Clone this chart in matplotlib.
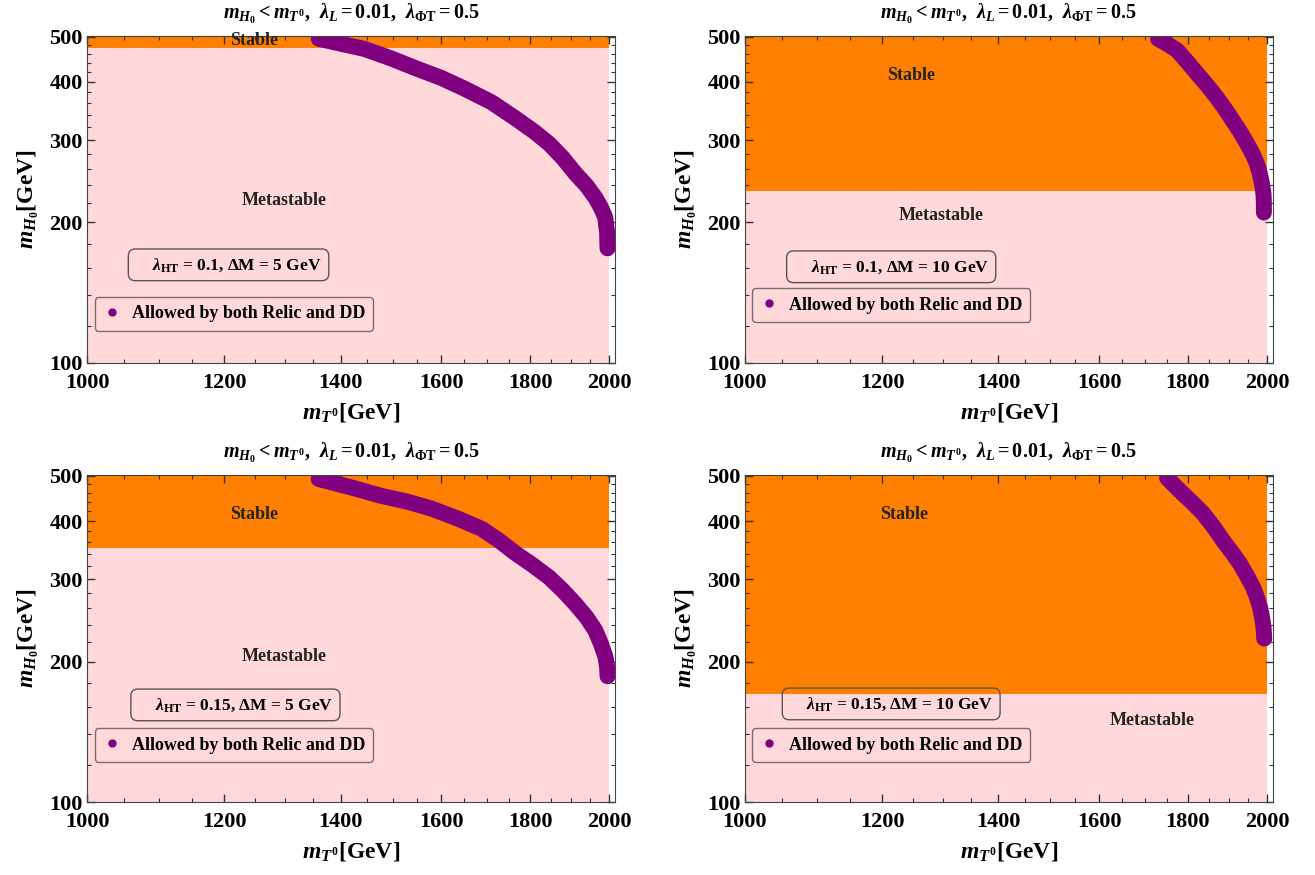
import matplotlib
matplotlib.use('Agg')
import matplotlib.pyplot as plt
from matplotlib.lines import Line2D
from matplotlib.ticker import FixedLocator, NullFormatter

plt.rcParams['font.family'] = ['Liberation Serif', 'DejaVu Serif']
plt.rcParams['font.weight'] = 'bold'
plt.rcParams['axes.labelweight'] = 'bold'
plt.rcParams['axes.titleweight'] = 'bold'
plt.rcParams['mathtext.fontset'] = 'custom'
plt.rcParams['mathtext.rm'] = 'Liberation Serif:bold'
plt.rcParams['mathtext.it'] = 'Liberation Serif:bold:italic'
plt.rcParams['mathtext.bf'] = 'Liberation Serif:bold'

# purple band (allowed by relic + DD)
tl_x = [1360, 1400, 1444, 1495, 1544, 1600, 1650, 1710, 1764, 1810, 1846, 1880, 1911, 1940, 1963, 1978, 1989, 1994, 1995]
tl_y = [495, 483, 471, 450, 429, 408, 387, 362, 335, 313, 295, 275, 255, 240, 226, 215, 205, 190, 176]
tr_x = [1730, 1752, 1775, 1800, 1822, 1848, 1871, 1892, 1911, 1930, 1947, 1961, 1972, 1980, 1986, 1990, 1991, 1991]
tr_y = [495, 482, 467, 440, 417, 392, 370, 349, 330, 312, 295, 281, 268, 255, 242, 230, 220, 210]
bl_x = [1360, 1420, 1477, 1530, 1580, 1635, 1688, 1728, 1764, 1806, 1846, 1880, 1911, 1940, 1963, 1978, 1990, 1994, 1995]
bl_y = [492, 472, 453, 440, 425, 405, 385, 363, 342, 322, 303, 284, 266, 249, 233, 218, 204, 194, 186]
br_x = [1751, 1770, 1789, 1813, 1837, 1862, 1886, 1908, 1929, 1947, 1963, 1973, 1981, 1986, 1990, 1992]
br_y = [495, 475, 457, 436, 415, 389, 363, 343, 324, 305, 288, 274, 261, 249, 237, 224]

# lower edge of the stable (orange) region
stable_min = [472, 234, 350, 170]
lam_ht = ['0.1', '0.1', '0.15', '0.15']
delta_m = ['5', '10', '5', '10']

curves_x = [tl_x, tr_x, bl_x, br_x]
curves_y = [tl_y, tr_y, bl_y, br_y]

# text positions (axes fraction)
stable_pos = [(0.316, 0.985), (0.315, 0.88), (0.316, 0.878), (0.302, 0.878)]
meta_pos = [(0.373, 0.498), (0.372, 0.45), (0.373, 0.446), (0.772, 0.25)]
box_pos = [(0.268, 0.30), (0.277, 0.294), (0.281, 0.297), (0.277, 0.30)]
leg_pos = [(0.278, 0.15), (0.277, 0.177), (0.278, 0.174), (0.277, 0.174)]

orange = '#FF8000'
pink = '#FFD8DA'
purple = '#800080'

fig, axes = plt.subplots(2, 2, figsize=(13.15, 8.75), dpi=100)
fig.subplots_adjust(left=0.0662, right=0.968, top=0.959, bottom=0.0834,
                    wspace=0.246, hspace=0.3425)

for i, ax in enumerate(axes.flat):
    ax.set_xscale('log')
    ax.set_yscale('log')
    ax.set_xlim(1000, 2015)
    ax.set_ylim(100, 502)

    # regions
    ax.fill_between([1000, 2000], 100, stable_min[i], color=pink, lw=0, zorder=0)
    ax.fill_between([1000, 2000], stable_min[i], 502, color=orange, lw=0, zorder=0)

    # allowed band
    ax.plot(curves_x[i], curves_y[i], color=purple, lw=11.5,
            solid_capstyle='round', solid_joinstyle='round', zorder=2)

    # ticks
    ax.xaxis.set_major_locator(FixedLocator([1000, 1200, 1400, 1600, 1800, 2000]))
    ax.xaxis.set_minor_locator(FixedLocator(range(1050, 2001, 50)))
    ax.yaxis.set_major_locator(FixedLocator([100, 200, 300, 400, 500]))
    ax.yaxis.set_minor_locator(FixedLocator(range(120, 500, 20)))
    ax.set_xticklabels(['1000', '1200', '1400', '1600', '1800', '2000'])
    ax.set_yticklabels(['100', '200', '300', '400', '500'])
    ax.xaxis.set_minor_formatter(NullFormatter())
    ax.yaxis.set_minor_formatter(NullFormatter())
    ax.tick_params(which='both', direction='in', top=True, right=True,
                   labelsize=16, color='#333333')
    ax.tick_params(which='major', length=6, width=1)
    ax.tick_params(which='minor', length=3, width=0.8)
    ax.tick_params(axis='x', pad=7)
    ax.tick_params(axis='y', pad=3)
    for sp in ax.spines.values():
        sp.set_color('#444444')

    ax.set_title(r'$m_{H_0} < m_{T^0}$,  $\lambda_L = 0.01$,  $\lambda_{\Phi\mathrm{T}} = 0.5$',
                 fontsize=14.5, pad=12)
    ax.set_xlabel(r'$m_{T^0}$[GeV]', fontsize=17, labelpad=6)
    ax.set_ylabel(r'$m_{H_0}$[GeV]', fontsize=17, labelpad=6)

    ax.text(*stable_pos[i], 'Stable', transform=ax.transAxes, ha='center',
            va='center', fontsize=13, color='#222222', zorder=3)
    ax.text(*meta_pos[i], 'Metastable', transform=ax.transAxes, ha='center',
            va='center', fontsize=13, color='#222222', zorder=3)

    ax.text(*box_pos[i],
            r'    $\lambda_{\mathrm{HT}}$ = ' + lam_ht[i] + r', $\Delta$M = ' + delta_m[i] + ' GeV',
            transform=ax.transAxes, ha='center', va='center', fontsize=12.5,
            zorder=4,
            bbox=dict(boxstyle='round,pad=0.4,rounding_size=0.4',
                      facecolor='none', edgecolor='#555555', lw=1))

    handle = Line2D([], [], marker='o', ls='none', color=purple, markersize=5)
    leg = ax.legend([handle], ['Allowed by both Relic and DD'], loc='center',
                    bbox_to_anchor=leg_pos[i], frameon=True, fancybox=True,
                    fontsize=13, handlelength=1.0, handletextpad=0.6,
                    borderpad=0.45, borderaxespad=0)
    frame = leg.get_frame()
    frame.set_facecolor('none')
    frame.set_edgecolor('#555555')
    frame.set_linewidth(1)
    leg.set_zorder(5)

fig.savefig('out.png', dpi=100)
